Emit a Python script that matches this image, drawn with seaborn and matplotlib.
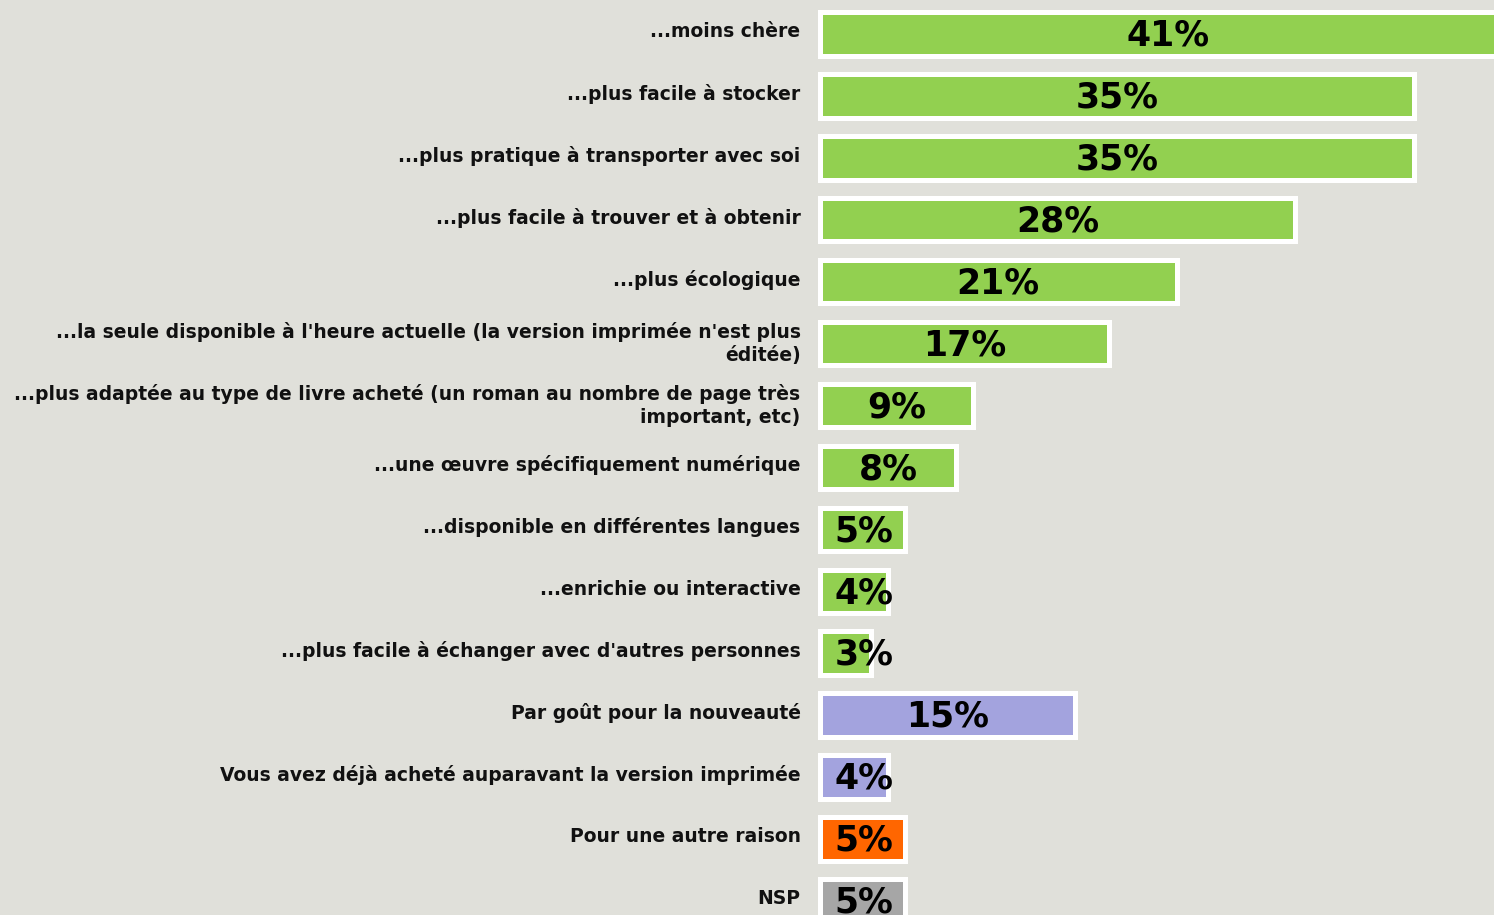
import matplotlib
matplotlib.use("Agg")
import matplotlib.pyplot as plt
import matplotlib.transforms as mtransforms
import seaborn as sns
import pandas as pd

categories = [
    "...moins chère",
    "...plus facile à stocker",
    "...plus pratique à transporter avec soi",
    "...plus facile à trouver et à obtenir",
    "...plus écologique",
    "...la seule disponible à l'heure actuelle (la version imprimée n'est plus\néditée)",
    "...plus adaptée au type de livre acheté (un roman au nombre de page très\nimportant, etc)",
    "...une œuvre spécifiquement numérique",
    "...disponible en différentes langues",
    "...enrichie ou interactive",
    "...plus facile à échanger avec d'autres personnes",
    "Par goût pour la nouveauté",
    "Vous avez déjà acheté auparavant la version imprimée",
    "Pour une autre raison",
    "NSP",
]
values = [41, 35, 35, 28, 21, 17, 9, 8, 5, 4, 3, 15, 4, 5, 5]
groups = ["a"] * 11 + ["b", "b", "c", "d"]
group_colors = {"a": "#92d050", "b": "#a3a3de", "c": "#ff6600", "d": "#a6a6a6"}

df = pd.DataFrame({"cat": categories, "val": values, "grp": groups})

bg = "#e0e0da"
sns.set_theme(style="white")
plt.rcParams["font.family"] = ["DejaVu Sans"]

fig = plt.figure(figsize=(14.94, 9.15), dpi=100, facecolor=bg)
ax = fig.add_axes([820 / 1494, 0, 1 - 820 / 1494, 1])
ax.set_facecolor(bg)

sns.barplot(data=df, y="cat", x="val", hue="grp", palette=group_colors,
            orient="h", dodge=False, width=0.7, edgecolor="white",
            linewidth=3.6, saturation=1, legend=False, ax=ax)

for p in ax.patches:
    p.set_clip_on(False)

ax.set_xlim(0, 39.7)
ax.set_ylim(14.23, -0.55)
for s in ax.spines.values():
    s.set_visible(False)
ax.set_xticks([])
ax.set_xlabel("")
ax.set_ylabel("")
ax.tick_params(axis="y", length=0, pad=14)
shift = mtransforms.ScaledTranslation(0, 3 / 72, fig.dpi_scale_trans)
for lbl in ax.get_yticklabels():
    lbl.set_fontweight("bold")
    lbl.set_fontsize(13.5)
    lbl.set_color("#111111")
    lbl.set_multialignment("right")
    lbl.set_linespacing(1.3)
    lbl.set_transform(lbl.get_transform() + shift)

for i, v in enumerate(values):
    xpos = max(v / 2, 2.6)
    ax.text(xpos, i + 0.03, f"{v}%", ha="center", va="center",
            fontsize=25, fontweight="bold", color="black", zorder=5)

fig.savefig("out.png", dpi=100, facecolor=bg)
